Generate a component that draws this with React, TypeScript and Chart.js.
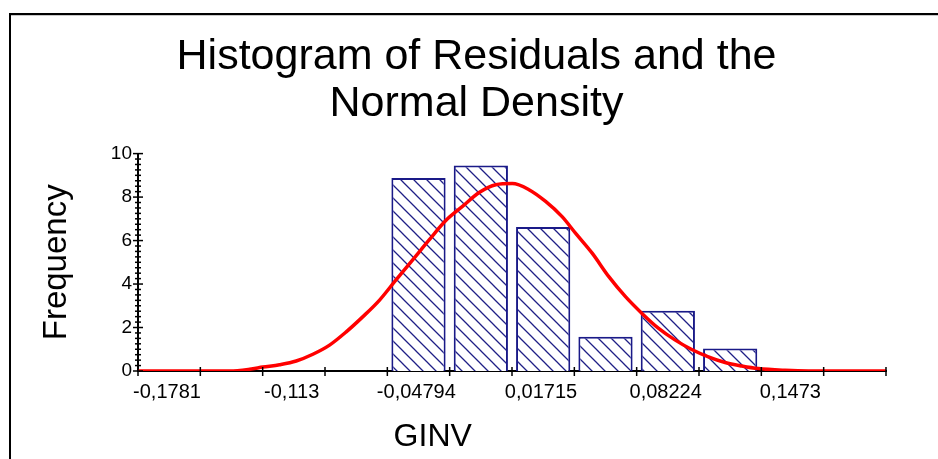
import React, { useEffect, useRef } from 'react';
import { Chart, registerables } from 'chart.js';

Chart.register(...registerables);

const FONT = "'Liberation Sans', Arial, Helvetica, sans-serif";

const titleLines = ['Histogram of Residuals and the', 'Normal Density'];
const xAxisTitle = 'GINV';
const yAxisTitle = 'Frequency';

// bin edges of the histogram (x-axis ticks)
const binEdges = [
  -0.1781, -0.145558, -0.113016, -0.080474, -0.047932, -0.01539, 0.017152,
  0.049694, 0.082236, 0.114778, 0.14732, 0.179862, 0.212404,
];
// tick labels shown (every other bin edge)
const xTickLabels = ['-0,1781', '', '-0,113', '', '-0,04794', '', '0,01715', '', '0,08224', '', '0,1473', '', ''];

const yMin = 0;
const yMax = 10;
const yMajorStep = 2;
const yMinorStep = 0.25;

// histogram bars (bin centres and heights)
const barCenters = [-0.031661, 0.000881, 0.033423, 0.065965, 0.098507, 0.131049];
const barFrequencies = [8.88, 9.45, 6.62, 1.57, 2.77, 1.03];

// normal density curve
const curveX = [
  -0.1781, -0.1302, -0.1198, -0.1129, -0.1042, -0.0955, -0.0868, -0.0781, -0.0694, -0.0608,
  -0.0521, -0.0434, -0.0348, -0.0261, -0.0174, -0.0087, 0.0, 0.0087, 0.0173, 0.026,
  0.0347, 0.0433, 0.0503, 0.059, 0.0677, 0.0764, 0.085, 0.0937, 0.1024, 0.111,
  0.1197, 0.1284, 0.1371, 0.1458, 0.1597, 0.1719, 0.2124,
];
const curveY = [
  0, 0, 0.08, 0.18, 0.29, 0.46, 0.77, 1.19, 1.8, 2.49,
  3.25, 4.19, 5.1, 6.03, 6.92, 7.57, 8.21, 8.57, 8.62, 8.34,
  7.8, 7.1, 6.34, 5.42, 4.34, 3.42, 2.65, 1.96, 1.42, 0.99,
  0.65, 0.39, 0.23, 0.11, 0.03, 0, 0,
];

const NAVY = '#1a1a88';

function makeHatch(): CanvasPattern | string {
  const size = 13;
  const c = document.createElement('canvas');
  c.width = size;
  c.height = size;
  const p = c.getContext('2d');
  if (!p) return '#ffffff';
  p.fillStyle = '#ffffff';
  p.fillRect(0, 0, size, size);
  p.strokeStyle = '#1f1f86';
  p.lineWidth = 1.3;
  p.beginPath();
  p.moveTo(0, 0);
  p.lineTo(size, size);
  p.moveTo(-2, size - 2);
  p.lineTo(2, size + 2);
  p.moveTo(size - 2, -2);
  p.lineTo(size + 2, 2);
  p.stroke();
  const pat = p.createPattern(c, 'repeat');
  return pat || '#ffffff';
}

const axisDecor = {
  id: 'axisDecor',
  afterDraw(chart: any) {
    const { ctx, chartArea } = chart;
    const x = chart.scales.x;
    const y = chart.scales.y;
    ctx.save();
    ctx.strokeStyle = '#000';
    ctx.lineWidth = 1.5;
    const x0 = chartArea.left;
    const n = Math.round((yMax - yMin) / yMinorStep);
    for (let i = 0; i <= n; i++) {
      const v = yMin + i * yMinorStep;
      const py = y.getPixelForValue(v);
      const major = Math.abs(v / yMajorStep - Math.round(v / yMajorStep)) < 1e-6;
      const len = major ? 5 : 3;
      ctx.beginPath();
      ctx.moveTo(x0 - len, py);
      ctx.lineTo(x0 + len, py);
      ctx.stroke();
    }
    const yb = chartArea.bottom;
    binEdges.forEach((v) => {
      const px = x.getPixelForValue(v);
      ctx.beginPath();
      ctx.moveTo(px, yb - 4);
      ctx.lineTo(px, yb + 5);
      ctx.stroke();
    });
    ctx.fillStyle = '#000';
    ctx.font = `32px ${FONT}`;
    ctx.textAlign = 'center';
    ctx.textBaseline = 'alphabetic';
    ctx.fillText(xAxisTitle, chartArea.left + (chartArea.right - chartArea.left) * 0.394, 446);
    ctx.restore();
  },
};

export default function App() {
  const ref = useRef<HTMLCanvasElement | null>(null);

  useEffect(() => {
    if (!ref.current) return;
    const hatch = makeHatch();
    const chart = new Chart(ref.current, {
      type: 'bar',
      data: {
        datasets: [
          {
            type: 'line',
            data: curveX.map((v, i) => ({ x: v, y: curveY[i] })),
            borderColor: '#ff0000',
            borderWidth: 3.5,
            pointRadius: 0,
            fill: false,
            cubicInterpolationMode: 'monotone',
            order: 0,
          } as any,
          {
            type: 'bar',
            data: barCenters.map((v, i) => ({ x: v, y: barFrequencies[i] })),
            backgroundColor: hatch as any,
            borderColor: NAVY,
            borderWidth: 2,
            categoryPercentage: 1,
            barPercentage: 0.87,
            order: 1,
          } as any,
        ],
      },
      options: {
        responsive: false,
        animation: false,
        layout: { padding: { left: 15, right: 0, top: 0, bottom: 0 } },
        plugins: {
          legend: { display: false },
          tooltip: { enabled: false },
          title: {
            display: true,
            text: titleLines,
            color: '#000',
            font: { family: FONT, size: 43, weight: 'normal', lineHeight: 1.1 },
            padding: { top: 33, bottom: 26 },
          },
        },
        scales: {
          x: {
            type: 'linear',
            min: binEdges[0],
            max: binEdges[binEdges.length - 1],
            offset: false,
            afterBuildTicks: (s: any) => {
              s.ticks = binEdges.map((v) => ({ value: v }));
            },
            afterFit: (s: any) => {
              s.height = 88;
            },
            grid: { display: false, drawTicks: false, offset: false },
            border: { display: true, color: '#000', width: 2 },
            ticks: {
              autoSkip: false,
              maxRotation: 0,
              minRotation: 0,
              labelOffset: 29,
              padding: 9,
              color: '#000',
              font: { family: FONT, size: 20 },
              callback: (_v: any, i: number) => xTickLabels[i] ?? '',
            },
          },
          y: {
            min: yMin,
            max: yMax,
            afterFit: (s: any) => {
              s.width = 123;
            },
            grid: { display: false, drawTicks: false },
            border: { display: true, color: '#000', width: 2 },
            ticks: {
              stepSize: yMajorStep,
              padding: 6,
              color: '#000',
              font: { family: FONT, size: 19 },
            },
            title: {
              display: true,
              text: yAxisTitle,
              color: '#000',
              font: { family: FONT, size: 33 },
              padding: { top: 22, bottom: 0 },
            },
          },
          yRight: {
            position: 'right',
            display: true,
            afterFit: (s: any) => {
              s.width = 52;
            },
            grid: { display: false, drawTicks: false },
            border: { display: false },
            ticks: { display: false },
          },
        },
      } as any,
      plugins: [axisDecor],
    });
    return () => chart.destroy();
  }, []);

  return (
    <div style={{ position: 'fixed', left: 0, top: 0, width: 938, height: 459, background: '#fff', overflow: 'hidden' }}>
      <div
        style={{
          position: 'absolute',
          left: 9,
          top: 13,
          right: 0,
          bottom: 0,
          borderLeft: '2px solid #000',
          borderTop: '2px solid #000',
          boxShadow: 'inset 0 1px 0 #c8c8c8',
        }}
      />
      <canvas ref={ref} width={938} height={459} style={{ position: 'absolute', left: 0, top: 0 }} />
    </div>
  );
}
